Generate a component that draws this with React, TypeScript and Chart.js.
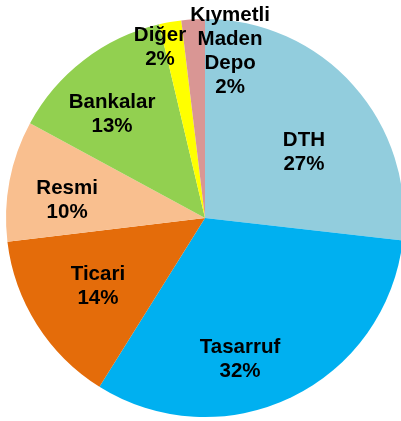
import React, { useEffect, useRef } from "react";
import { Chart, registerables } from "chart.js";

Chart.register(...registerables);

const categories = ["DTH", "Tasarruf", "Ticari", "Resmi", "Bankalar", "Diğer", "Kıymetli Maden Depo"];
const labelLines = [["DTH"], ["Tasarruf"], ["Ticari"], ["Resmi"], ["Bankalar"], ["Diğer"], ["Kıymetli", "Maden", "Depo"]];
const shares = [26.8, 32.1, 14.2, 9.8, 13.4, 1.8, 1.9];
const colors = ["#92CDDD", "#00B0F0", "#E46C0A", "#F9BF8F", "#92D050", "#FFFF00", "#D99694"];
// label block centres relative to pie centre, in units of radius
const labelOffsets = [
  [0.497, -0.329],
  [0.176, 0.711],
  [-0.538, 0.344],
  [-0.693, -0.09],
  [-0.467, -0.52],
  [-0.226, -0.857],
  [0.126, -0.837],
];

const labelPlugin = {
  id: "sliceLabels",
  afterDatasetsDraw(chart: any) {
    const ctx = chart.ctx;
    const meta = chart.getDatasetMeta(0);
    const total = shares.reduce((a, b) => a + b, 0);
    ctx.save();
    ctx.fillStyle = "#000";
    ctx.font = "bold 20.5px 'Liberation Sans', Arial, sans-serif";
    ctx.textAlign = "center";
    ctx.textBaseline = "middle";
    const lh = 24;
    meta.data.forEach((arc: any, i: number) => {
      const r = arc.outerRadius;
      const cx = arc.x + labelOffsets[i][0] * r;
      const cy = arc.y + labelOffsets[i][1] * r;
      const lines = [...labelLines[i], Math.round((shares[i] / total) * 100) + "%"];
      const startY = cy - ((lines.length - 1) * lh) / 2;
      lines.forEach((t, k) => ctx.fillText(t, cx, startY + k * lh));
    });
    ctx.restore();
  },
};

export default function App() {
  const ref = useRef<HTMLCanvasElement>(null);
  useEffect(() => {
    const chart = new Chart(ref.current!, {
      type: "pie",
      data: {
        labels: categories,
        datasets: [
          {
            data: shares,
            backgroundColor: colors,
            borderWidth: 0,
          },
        ],
      },
      options: {
        responsive: false,
        animation: false,
        layout: { padding: { left: 6, right: 6, top: 19, bottom: 4 } },
        plugins: {
          legend: { display: false },
          tooltip: { enabled: false },
        },
      },
      plugins: [labelPlugin],
    });
    return () => chart.destroy();
  }, []);
  return (
    <div
      style={{
        position: "fixed",
        left: 0,
        top: 0,
        width: 401,
        height: 421,
        overflow: "hidden",
        background: "#fff",
      }}
    >
      <canvas ref={ref} width={410} height={421} style={{ width: 410, height: 421, display: "block" }} />
    </div>
  );
}
